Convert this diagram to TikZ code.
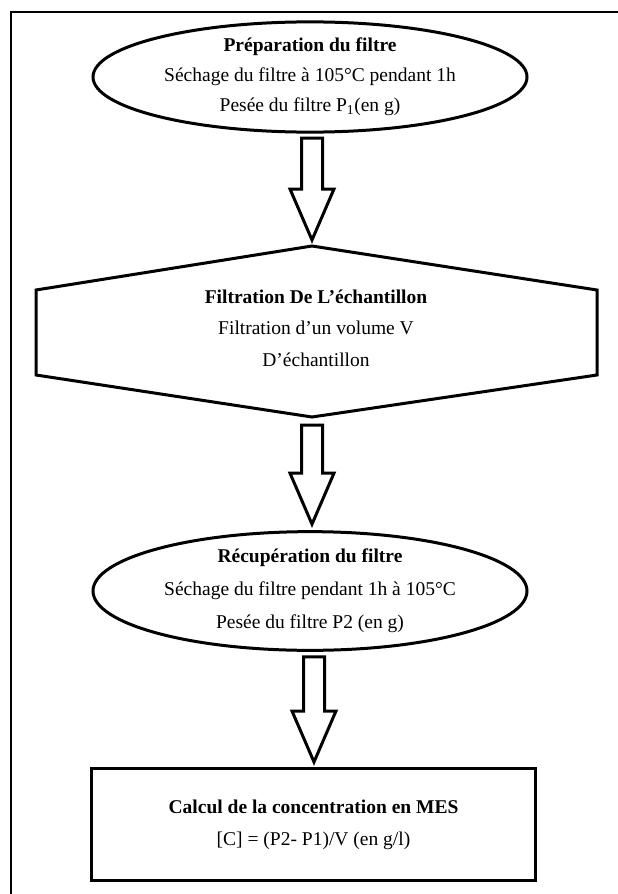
\documentclass[tikz,border=0pt]{standalone}
\usepackage{fontspec}
\setmainfont{Liberation Serif}
\usetikzlibrary{shapes.geometric,calc}
\tikzset{
  shapeline/.style={draw=black, line width=3pt, line join=miter},
  ellbox/.style={shapeline, ellipse, inner sep=0pt, align=center},
  txt/.style={inner sep=0pt, align=center, font=\fontsize{19.5}{31.5}\selectfont},
  rectbox/.style={shapeline, rectangle, inner sep=0pt, align=center, font=\fontsize{19.5}{32}\selectfont},
  barrow/.style={draw=black, line width=3pt, line join=miter, fill=white}
}
\newcommand{\blockarr}[2]{%
  \draw[barrow] ($(#1)+(-10.5,0)$) -- ($(#1)+(10.5,0)$) -- ($(#2)+(10.5,-51)$) -- ($(#2)+(22,-51)$) -- (#2) -- ($(#2)+(-22,-51)$) -- ($(#2)+(-10.5,-51)$) -- cycle;}
\begin{document}
\begin{tikzpicture}[x=1pt,y=-1pt]
\useasboundingbox (0,0) rectangle (618,894);
% outer frame (only top and left edges visible)
\begin{scope}
\clip (0,0) rectangle (618,894);
\draw[line width=1.6pt] (11,1000) -- (11,12) -- (700,12);
\end{scope}
% first ellipse
\node[ellbox, minimum width=434pt, minimum height=110pt, font=\fontsize{19.5}{30}\selectfont] (e1) at (310,77)
  {\textbf{Préparation du filtre}\\Séchage du filtre à 105°C pendant 1h\\Pesée du filtre P\textsubscript{1}(en g)};
% hexagon
\coordinate (hT) at (312,246);
\coordinate (hUR) at (597,290);
\coordinate (hLR) at (597,375);
\coordinate (hB) at (312,417);
\coordinate (hLL) at (36,375);
\coordinate (hUL) at (36,290);
\draw[shapeline] (hT) -- (hUR) -- (hLR) -- (hB) -- (hLL) -- (hUL) -- cycle;
\node[txt] (hex) at (316,328)
  {\textbf{Filtration De L’échantillon}\\Filtration d’un volume V\\D’échantillon};
% second ellipse
\node[ellbox, minimum width=434pt, minimum height=112pt, font=\fontsize{19.5}{33}\selectfont] (e2) at (310,591)
  {\textbf{Récupération du filtre}\\Séchage du filtre pendant 1h à 105°C\\Pesée du filtre P2 (en g)};
% rectangle
\node[rectbox, minimum width=444pt, minimum height=112pt] (r) at (313.5,824.5)
  {\textbf{Calcul de la concentration en MES}\\{}[C] = (P2- P1)/V (en g/l)};
% block arrows
\coordinate (a1s) at ($(e1.south)+(2,4.5)$);
\coordinate (a1t) at ($(hT)+(0,-6)$);
\blockarr{a1s}{a1t}
\coordinate (a2s) at ($(hB)+(0,8)$);
\coordinate (a2t) at ($(e2.north)+(2,-6)$);
\blockarr{a2s}{a2t}
\coordinate (a3s) at ($(e2.south)+(4,5)$);
\coordinate (a3t) at ($(r.north)+(0.5,-5)$);
\blockarr{a3s}{a3t}
\end{tikzpicture}
\end{document}
